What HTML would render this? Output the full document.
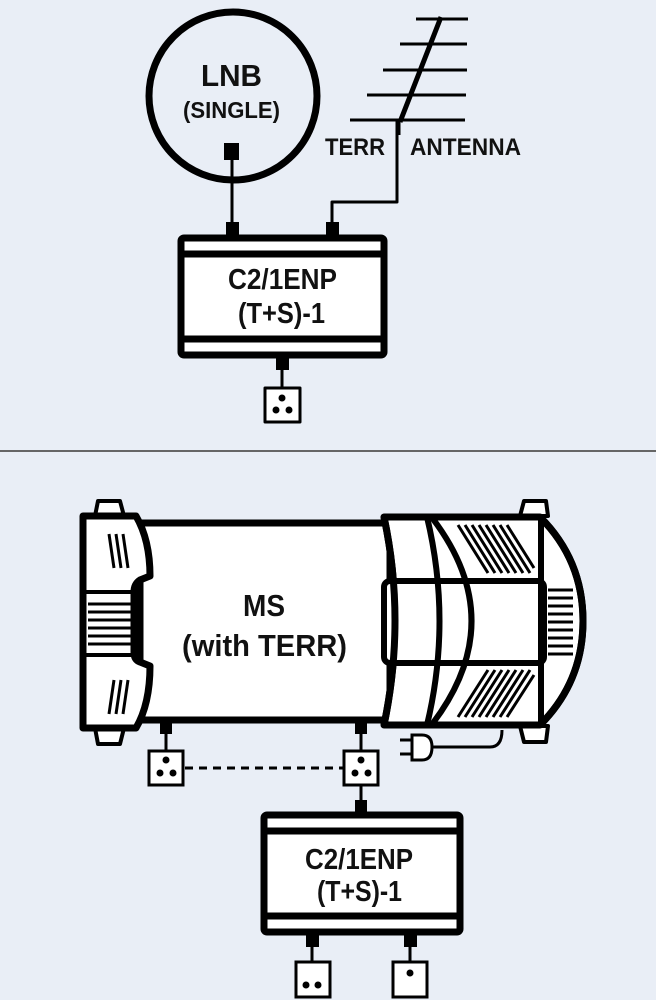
<!DOCTYPE html>
<html><head><meta charset="utf-8"><style>
html,body{margin:0;padding:0;background:#e9eef6;}
svg{display:block;}
text{font-family:"Liberation Sans",sans-serif;font-weight:bold;fill:#111;}
</style></head><body>
<svg width="656" height="1000" viewBox="0 0 656 1000" xmlns="http://www.w3.org/2000/svg">
<rect width="656" height="1000" fill="#e9eef6"/>
<g stroke="#000" fill="none" stroke-linejoin="round">
<circle cx="233" cy="96" r="84" stroke-width="7"/>
<rect x="224" y="143" width="15" height="17" fill="#000" stroke="none"/>
<line x1="232" y1="160" x2="232" y2="225" stroke-width="3"/>
<rect x="226" y="222" width="13" height="16" fill="#000" stroke="none"/>
<g stroke-width="3">
<line x1="416" y1="19" x2="468" y2="19"/>
<line x1="400" y1="44" x2="467" y2="44"/>
<line x1="383" y1="70" x2="467" y2="70"/>
<line x1="367" y1="95" x2="466" y2="95"/>
<line x1="350" y1="120" x2="465" y2="120"/>
</g>
<line x1="441" y1="17" x2="400" y2="122" stroke-width="5"/>
<line x1="398" y1="120" x2="398" y2="135" stroke-width="5"/>
<polyline points="397,130 397,202 332,202 332,225" stroke-width="3"/>
<rect x="326" y="222" width="13" height="16" fill="#000" stroke="none"/>
<rect x="181" y="238" width="203" height="117" rx="3" fill="#fff" stroke-width="7"/>
<line x1="181" y1="254" x2="384" y2="254" stroke-width="7"/>
<line x1="181" y1="339" x2="384" y2="339" stroke-width="7"/>
<rect x="276" y="355" width="13" height="15" fill="#000" stroke="none"/>
<line x1="282" y1="368" x2="282" y2="388" stroke-width="3"/>
<rect x="265" y="388" width="35" height="34" fill="#fff" stroke-width="3"/>
</g>
<g fill="#000">
<circle cx="282" cy="398" r="3.5"/><circle cx="276" cy="410" r="3.5"/><circle cx="289" cy="410" r="3.5"/>
</g>
<text x="201" y="86" font-size="31" textLength="61" lengthAdjust="spacingAndGlyphs">LNB</text>
<text x="183" y="118" font-size="23" textLength="97" lengthAdjust="spacingAndGlyphs">(SINGLE)</text>
<text x="325" y="155" font-size="24" textLength="60" lengthAdjust="spacingAndGlyphs">TERR</text>
<text x="410" y="155" font-size="24" textLength="111" lengthAdjust="spacingAndGlyphs">ANTENNA</text>
<text x="228" y="289" font-size="29" textLength="109" lengthAdjust="spacingAndGlyphs">C2/1ENP</text>
<text x="238" y="323" font-size="29" textLength="87" lengthAdjust="spacingAndGlyphs">(T+S)-1</text>

<line x1="0" y1="451" x2="656" y2="451" stroke="#666" stroke-width="2"/>

<g stroke="#000" fill="#fff" stroke-linejoin="round">
<path d="M95,516 L98,501 L120,501 L124,516 Z" stroke-width="4"/>
<path d="M95,728 L98,744 L120,744 L124,728 Z" stroke-width="4"/>
<path d="M520,516 L524,501 L546,501 L548,516 Z" stroke-width="4"/>
<path d="M520,726 L524,742 L546,742 L548,726 Z" stroke-width="4"/>
<rect x="140" y="523" width="250" height="197" stroke-width="7"/>
<path d="M83,516 L136,516 Q150,540 150,576 L140,580 Q134,584 134,592 L134,652 Q134,660 140,662 L150,666 Q150,704 136,728 L83,728 Z" stroke-width="7"/>
<path d="M384,517 L540,517 Q583,560 583,621 Q583,682 540,725 L384,725 Q406,620 384,517 Z" stroke-width="7"/>
<rect x="384" y="581" width="160" height="82" rx="6" stroke-width="6"/>
<path d="M384,517 Q406,620 384,725" stroke-width="7" fill="none"/>
<path d="M427,517 Q452,621 427,725" stroke-width="6" fill="none"/>
<path d="M433,519 Q510,621 433,723" stroke-width="6" fill="none"/>
<line x1="541" y1="517" x2="541" y2="725" stroke-width="6"/>
<path d="M540,517 Q583,560 583,621 Q583,682 540,725" stroke-width="7" fill="none"/>
</g>
<g stroke="#000" stroke-width="3">
<line x1="83" y1="592" x2="134" y2="592" stroke-width="4"/>
<line x1="83" y1="655" x2="134" y2="655" stroke-width="4"/>
<line x1="88" y1="604" x2="132" y2="604"/><line x1="88" y1="612" x2="132" y2="612"/>
<line x1="88" y1="620" x2="132" y2="620"/><line x1="88" y1="628" x2="132" y2="628"/>
<line x1="88" y1="636" x2="132" y2="636"/><line x1="88" y1="644" x2="132" y2="644"/>
<line x1="109" y1="534" x2="114" y2="568"/><line x1="116" y1="534" x2="121" y2="568"/><line x1="123" y1="534" x2="128" y2="568"/>
<line x1="114" y1="680" x2="109" y2="714"/><line x1="121" y1="680" x2="116" y2="714"/><line x1="128" y1="680" x2="123" y2="714"/>
<line x1="458" y1="525" x2="488" y2="573"/><line x1="465" y1="525" x2="495" y2="573"/>
<line x1="472" y1="525" x2="502" y2="573"/><line x1="479" y1="525" x2="509" y2="573"/>
<line x1="486" y1="525" x2="516" y2="573"/><line x1="493" y1="525" x2="523" y2="573"/>
<line x1="500" y1="525" x2="530" y2="573"/><line x1="507" y1="525" x2="534" y2="568"/>
<line x1="458" y1="717" x2="488" y2="670"/><line x1="465" y1="717" x2="495" y2="670"/>
<line x1="472" y1="717" x2="502" y2="670"/><line x1="479" y1="717" x2="509" y2="670"/>
<line x1="486" y1="717" x2="516" y2="670"/><line x1="493" y1="717" x2="523" y2="670"/>
<line x1="500" y1="717" x2="530" y2="670"/><line x1="507" y1="717" x2="534" y2="675"/>
<line x1="548" y1="590" x2="573" y2="590"/><line x1="548" y1="598" x2="573" y2="598"/>
<line x1="548" y1="606" x2="573" y2="606"/><line x1="548" y1="614" x2="573" y2="614"/>
<line x1="548" y1="622" x2="573" y2="622"/><line x1="548" y1="630" x2="573" y2="630"/>
<line x1="548" y1="638" x2="573" y2="638"/><line x1="548" y1="646" x2="573" y2="646"/>
<line x1="548" y1="654" x2="573" y2="654"/>
</g>
<text x="243" y="616" font-size="31" textLength="42" lengthAdjust="spacingAndGlyphs">MS</text>
<text x="182" y="656" font-size="31" textLength="165" lengthAdjust="spacingAndGlyphs">(with TERR)</text>

<g stroke="#000" fill="none" stroke-width="3">
<line x1="400" y1="740" x2="412" y2="740"/>
<line x1="400" y1="754" x2="412" y2="754"/>
<path d="M412,735 L422,735 Q432,735 432,747 Q432,760 422,760 L412,760 Z" fill="#fff"/>
<path d="M432,747 L490,747 Q502,747 502,730" />
</g>

<g stroke="#000" fill="none">
<rect x="160" y="720" width="12" height="14" fill="#000" stroke="none"/>
<line x1="166" y1="732" x2="166" y2="752" stroke-width="3"/>
<rect x="149" y="751" width="34" height="34" fill="#fff" stroke-width="3"/>
<rect x="355" y="720" width="12" height="14" fill="#000" stroke="none"/>
<line x1="361" y1="732" x2="361" y2="752" stroke-width="3"/>
<rect x="344" y="751" width="34" height="34" fill="#fff" stroke-width="3"/>
<line x1="185" y1="768" x2="343" y2="768" stroke-width="3" stroke-dasharray="8,6"/>
<line x1="361" y1="785" x2="361" y2="805" stroke-width="3"/>
<rect x="355" y="800" width="12" height="14" fill="#000" stroke="none"/>
<rect x="264" y="815" width="196" height="117" rx="3" fill="#fff" stroke-width="7"/>
<line x1="264" y1="831" x2="460" y2="831" stroke-width="7"/>
<line x1="264" y1="916" x2="460" y2="916" stroke-width="7"/>
<rect x="306" y="932" width="13" height="15" fill="#000" stroke="none"/>
<line x1="312" y1="945" x2="312" y2="962" stroke-width="3"/>
<rect x="296" y="962" width="34" height="35" fill="#fff" stroke-width="3"/>
<rect x="404" y="932" width="13" height="15" fill="#000" stroke="none"/>
<line x1="410" y1="945" x2="410" y2="962" stroke-width="3"/>
<rect x="393" y="962" width="34" height="35" fill="#fff" stroke-width="3"/>
</g>
<g fill="#000">
<circle cx="166" cy="760" r="3.5"/><circle cx="160" cy="773" r="3.5"/><circle cx="173" cy="773" r="3.5"/>
<circle cx="361" cy="760" r="3.5"/><circle cx="355" cy="773" r="3.5"/><circle cx="368" cy="773" r="3.5"/>
<circle cx="306" cy="985" r="3.5"/><circle cx="318" cy="985" r="3.5"/>
<circle cx="410" cy="973" r="3.5"/>
</g>
<text x="305" y="869" font-size="29" textLength="108" lengthAdjust="spacingAndGlyphs">C2/1ENP</text>
<text x="317" y="901" font-size="29" textLength="85" lengthAdjust="spacingAndGlyphs">(T+S)-1</text>
</svg>
</body></html>
